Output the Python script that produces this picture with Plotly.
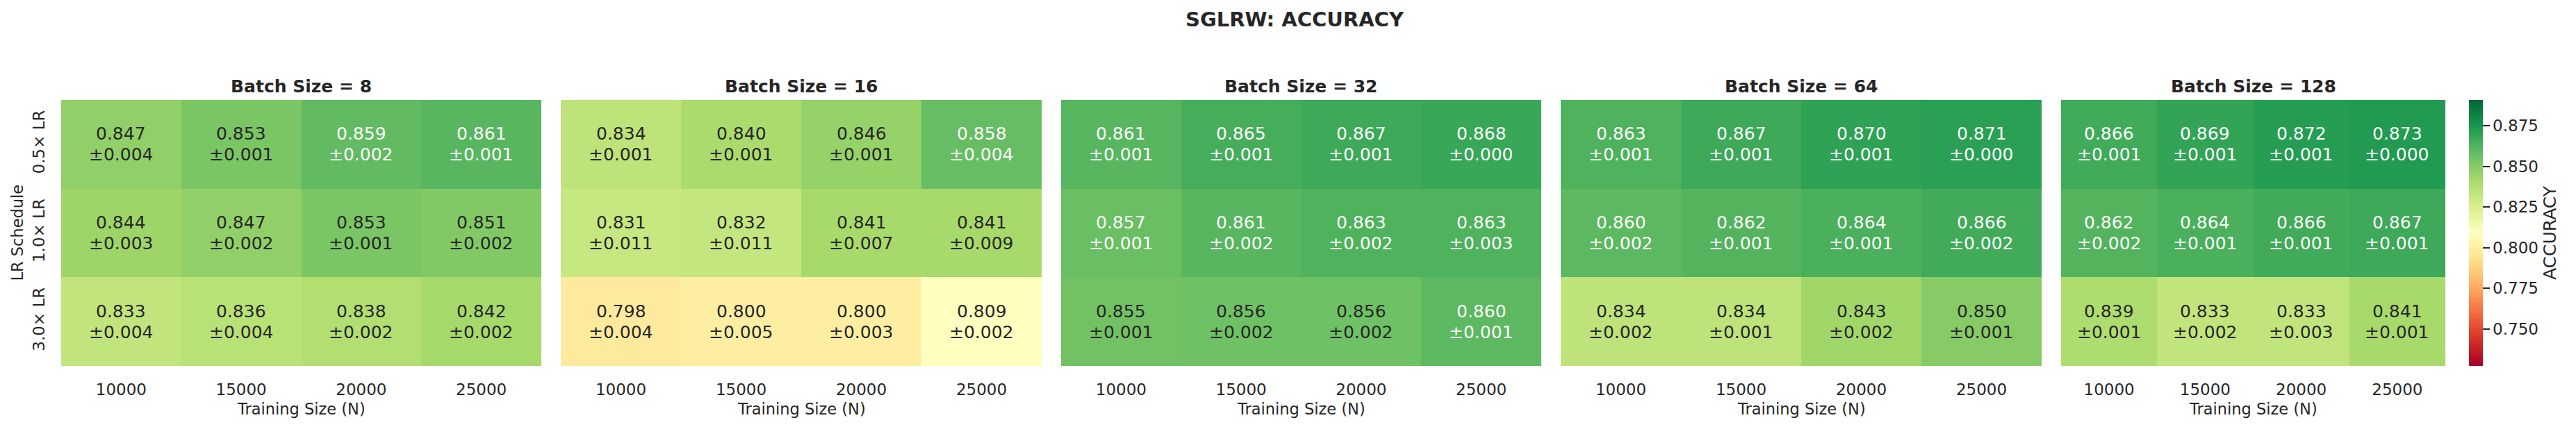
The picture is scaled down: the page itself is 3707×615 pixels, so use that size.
import plotly.graph_objects as go

W, H = 3707, 615

# ---------------- data ----------------
train_sizes = [10000, 15000, 20000, 25000]
lr_schedules = ["0.5× LR", "1.0× LR", "3.0× LR"]
batch_sizes = [8, 16, 32, 64, 128]

acc_bs8 = [[0.847, 0.853, 0.859, 0.861],
           [0.844, 0.847, 0.853, 0.851],
           [0.833, 0.836, 0.838, 0.842]]
std_bs8 = [[0.004, 0.001, 0.002, 0.001],
           [0.003, 0.002, 0.001, 0.002],
           [0.004, 0.004, 0.002, 0.002]]

acc_bs16 = [[0.834, 0.840, 0.846, 0.858],
            [0.831, 0.832, 0.841, 0.841],
            [0.798, 0.800, 0.800, 0.809]]
std_bs16 = [[0.001, 0.001, 0.001, 0.004],
            [0.011, 0.011, 0.007, 0.009],
            [0.004, 0.005, 0.003, 0.002]]

acc_bs32 = [[0.861, 0.865, 0.867, 0.868],
            [0.857, 0.861, 0.863, 0.863],
            [0.855, 0.856, 0.856, 0.860]]
std_bs32 = [[0.001, 0.001, 0.001, 0.000],
            [0.001, 0.002, 0.002, 0.003],
            [0.001, 0.002, 0.002, 0.001]]

acc_bs64 = [[0.863, 0.867, 0.870, 0.871],
            [0.860, 0.862, 0.864, 0.866],
            [0.834, 0.834, 0.843, 0.850]]
std_bs64 = [[0.001, 0.001, 0.001, 0.000],
            [0.002, 0.001, 0.001, 0.002],
            [0.002, 0.001, 0.002, 0.001]]

acc_bs128 = [[0.866, 0.869, 0.872, 0.873],
             [0.862, 0.864, 0.866, 0.867],
             [0.839, 0.833, 0.833, 0.841]]
std_bs128 = [[0.001, 0.001, 0.001, 0.000],
             [0.002, 0.001, 0.001, 0.001],
             [0.001, 0.002, 0.003, 0.001]]

acc_all = [acc_bs8, acc_bs16, acc_bs32, acc_bs64, acc_bs128]
std_all = [std_bs8, std_bs16, std_bs32, std_bs64, std_bs128]

cbar_ticks = [0.750, 0.775, 0.800, 0.825, 0.850, 0.875]

# ---------------- style / layout ----------------
FONT = "DejaVu Sans"
DARK = "#262626"
ZMIN, ZMAX = 0.7272, 0.8908
WHITE_ABOVE = 0.8565

panel_px = [(88, 779), (807, 1499), (1527, 2218), (2246, 2938), (2966, 3519)]
top_px, bot_px = 144, 527
ydom = [1 - bot_px / H, 1 - top_px / H]

fig = go.Figure()
annotations = []
layout_axes = {}

for i, (bs, acc, std) in enumerate(zip(batch_sizes, acc_all, std_all)):
    n = i + 1
    xa = "x" if n == 1 else f"x{n}"
    ya = "y" if n == 1 else f"y{n}"
    fig.add_trace(go.Heatmap(
        z=acc, x=train_sizes, y=lr_schedules,
        coloraxis="coloraxis", xaxis=xa, yaxis=ya,
    ))
    x0, x1 = panel_px[i]
    suffix = "" if n == 1 else str(n)
    layout_axes[f"xaxis{suffix}"] = dict(
        domain=[x0 / W, x1 / W], anchor=ya,
        type="linear", tickvals=train_sizes,
        ticktext=[str(t) for t in train_sizes],
        showgrid=False, zeroline=False, showline=False,
        ticks="outside", ticklen=13, tickcolor="rgba(0,0,0,0)",
        tickfont=dict(family=FONT, size=23, color=DARK),
    )
    layout_axes[f"yaxis{suffix}"] = dict(
        domain=ydom, anchor=xa,
        type="category", categoryorder="array",
        categoryarray=lr_schedules[::-1],
        showgrid=False, zeroline=False, showline=False,
        ticks="outside", ticklen=14, tickcolor="rgba(0,0,0,0)",
        showticklabels=(n == 1), tickangle=-90,
        tickfont=dict(family=FONT, size=23, color=DARK),
    )
    # cell annotations
    for r, lr in enumerate(lr_schedules):
        for c, ts in enumerate(train_sizes):
            v = acc[r][c]
            col = "white" if v > WHITE_ABOVE else DARK
            annotations.append(dict(
                x=ts, y=lr, xref=xa, yref=ya, showarrow=False,
                text=f"{v:.3f}", yshift=15,
                font=dict(family=FONT, size=25, color=col)))
            annotations.append(dict(
                x=ts, y=lr, xref=xa, yref=ya, showarrow=False,
                text=f"±{std[r][c]:.3f}", yshift=-15,
                font=dict(family=FONT, size=25, color=col)))
    # subplot title
    annotations.append(dict(
        x=(x0 + x1) / 2 / W, y=1 - 124.5 / H, xref="paper", yref="paper",
        xanchor="center", yanchor="middle", showarrow=False,
        text=f"<b>Batch Size = {bs}</b>",
        font=dict(family=FONT, size=25, color=DARK)))
    # x-axis title
    annotations.append(dict(
        x=(x0 + x1) / 2 / W, y=1 - 589 / H, xref="paper", yref="paper",
        xanchor="center", yanchor="middle", showarrow=False,
        text="Training Size (N)",
        font=dict(family=FONT, size=22.5, color=DARK)))

# y-axis title
annotations.append(dict(
    x=24 / W, y=1 - 335.5 / H, xref="paper", yref="paper",
    xanchor="center", yanchor="middle", showarrow=False, textangle=-90,
    text="LR Schedule", font=dict(family=FONT, size=22.5, color=DARK)))

# main title
annotations.append(dict(
    x=1863 / W, y=1 - 28 / H, xref="paper", yref="paper",
    xanchor="center", yanchor="middle", showarrow=False,
    text="<b>SGLRW: ACCURACY</b>", font=dict(family=FONT, size=29, color=DARK)))

fig.update_layout(**layout_axes)
fig.update_layout(
    width=W, height=H,
    margin=dict(l=0, r=0, t=0, b=0),
    paper_bgcolor="white", plot_bgcolor="white",
    font=dict(family=FONT, color=DARK),
    annotations=annotations,
    coloraxis=dict(
        colorscale="RdYlGn", cmin=ZMIN, cmax=ZMAX,
        colorbar=dict(
            x=3553 / W, xanchor="left", xpad=0,
            y=1 - (top_px + bot_px) / 2 / H, yanchor="middle", ypad=0,
            len=bot_px - top_px, lenmode="pixels",
            thickness=20, thicknessmode="pixels",
            outlinewidth=0,
            tickvals=cbar_ticks, ticktext=[f"{t:.3f}" for t in cbar_ticks],
            ticks="outside", ticklen=10, tickwidth=2, tickcolor=DARK,
            tickfont=dict(family=FONT, size=23, color=DARK),
            title=dict(text="ACCURACY", side="right",
                       font=dict(family=FONT, size=25, color=DARK)),
        ),
    ),
)

fig.write_html("out.html",
               config={"displayModeBar": False},
               post_script="document.body.style.margin='0';"
                           "document.body.style.overflow='hidden';")
